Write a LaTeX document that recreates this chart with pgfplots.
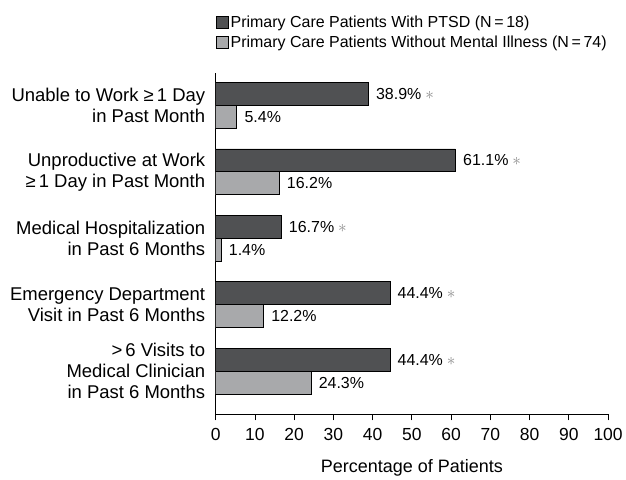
\documentclass[border=0pt]{standalone}
\usepackage{fontspec}
\setmainfont{Liberation Sans}
\usepackage{pgfplots}
\pgfplotsset{compat=1.18}
\definecolor{darkbar}{HTML}{505153}
\definecolor{lightbar}{HTML}{A8A9AB}
\definecolor{starcol}{HTML}{8C8C8C}

\begin{document}
\begin{tikzpicture}
\begin{axis}[
    xbar,
    scale only axis,
    width=393pt, height=342pt,
    xmin=0, xmax=100,
    ymin=-0.65, ymax=4.49,
    xtick={0,10,...,100},
    ytick={0,1,2,3,4},
    yticklabels={
      {>\,6 Visits to\\Medical Clinician\\in Past 6 Months},
      {Emergency Department\\Visit in Past 6 Months},
      {Medical Hospitalization\\in Past 6 Months},
      {Unproductive at Work\\≥\,1 Day in Past Month},
      {Unable to Work ≥\,1 Day\\in Past Month}},
    yticklabel style={align=right, font=\fontsize{18.5}{21}\selectfont, xshift=-1pt},
    xticklabel style={font=\fontsize{17.5}{20}\selectfont, yshift=-4pt},
    /pgf/number format/assume math mode=true,
    axis x line*=bottom,
    axis y line*=left,
    ytick style={draw=none},
    xtick style={black, line width=0.8pt},
    tick align=outside,
    major tick length=6pt,
    axis line style={black, line width=0.8pt},
    xlabel={Percentage of Patients},
    xlabel style={font=\fontsize{18}{21}\selectfont, yshift=-12pt},
    nodes near coords,
    every node near coord/.append style={font=\fontsize{16}{19}\selectfont, xshift=4pt},
    legend style={at={(rel axis cs:0,1)}, anchor=south west, yshift=22pt,
      draw=none, fill=none, inner sep=0pt, row sep=3pt,
      font=\fontsize{16}{19}\selectfont, legend cell align=left},
    legend image code/.code={\draw[#1, line width=0.8pt] (0pt,-6pt) rectangle (12pt,6pt);},
]
\addplot[fill=darkbar, draw=black, line width=0.8pt, bar width=23pt, bar shift=11.5pt,
  nodes near coords={\pgfmathprintnumber[fixed,fixed zerofill,precision=1]{\pgfplotspointmeta}\%\hspace{4pt}\textcolor{starcol}{$\ast$}}]
  coordinates {(38.9,4) (61.1,3) (16.7,2) (44.4,1) (44.4,0)};
\addplot[fill=lightbar, draw=black, line width=0.8pt, bar width=23pt, bar shift=-11.5pt,
  nodes near coords={\pgfmathprintnumber[fixed,fixed zerofill,precision=1]{\pgfplotspointmeta}\%}]
  coordinates {(5.4,4) (16.2,3) (1.4,2) (12.2,1) (24.3,0)};
\legend{Primary Care Patients With PTSD (N\,=\,18), Primary Care Patients Without Mental Illness (N\,=\,74)}
\coordinate (sw) at (rel axis cs:0,0);
\coordinate (ne) at (rel axis cs:1,1);
\end{axis}
\path ([shift={(-216pt,-59pt)}]sw) ([shift={(17pt,73pt)}]ne);
\end{tikzpicture}
\end{document}
